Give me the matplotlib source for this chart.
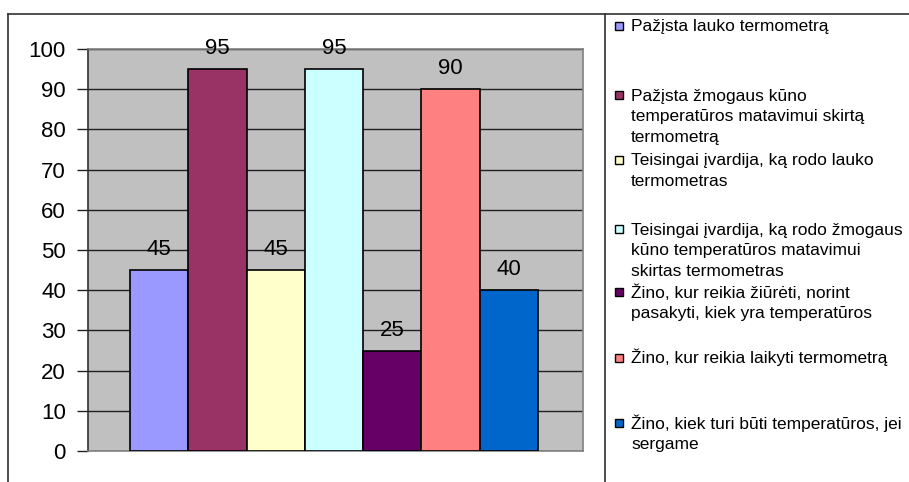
import numpy as np
import matplotlib
matplotlib.use('Agg')
from matplotlib import pyplot as plt
from matplotlib.lines import Line2D
from matplotlib.patches import Rectangle

plt.rcParams['font.family'] = ['Liberation Sans', 'DejaVu Sans']

labels = ['Pažįsta lauko termometrą',
          'Pažįsta žmogaus kūno\ntemperatūros matavimui skirtą\ntermometrą',
          'Teisingai įvardija, ką rodo lauko\ntermometras',
          'Teisingai įvardija, ką rodo žmogaus\nkūno temperatūros matavimui\nskirtas termometras',
          'Žino, kur reikia žiūrėti, norint\npasakyti, kiek yra temperatūros',
          'Žino, kur reikia laikyti termometrą',
          'Žino, kiek turi būti temperatūros, jei\nsergame']
values = [45, 95, 45, 95, 25, 90, 40]
colors = ['#9999FF', '#993366', '#FFFFCC', '#CCFFFF', '#660066', '#FF8080', '#0066CC']
yticks = [0, 10, 20, 30, 40, 50, 60, 70, 80, 90, 100]

W, H = 909, 482
fig = plt.figure(figsize=(W / 100, H / 100), dpi=100)

# plot area in pixel terms
ax = fig.add_axes([88 / W, (H - 451) / H, 495 / W, 402 / H])
ax.set_facecolor('#C0C0C0')

x = np.arange(len(values))
ax.bar(x, values, width=1.0, color=colors, edgecolor='black', linewidth=1.2, zorder=3)
for i in range(len(values)):
    ax.annotate(str(values[i]), (x[i], values[i]), xytext=(0, 7), textcoords='offset points',
                ha='center', va='bottom', fontsize=16, zorder=4)

ax.set_xlim(-1.22, 7.27)
ax.set_ylim(0, 100)
ax.set_yticks(yticks)
ax.set_xticks([])
ax.yaxis.grid(True, color='#202020', linewidth=1.0, zorder=1)
ax.tick_params(axis='y', length=8, width=1, color='#202020', pad=8, labelsize=16)
for s in ['top', 'right', 'bottom']:
    ax.spines[s].set_color('#808080')
    ax.spines[s].set_linewidth(1.2)
ax.spines['left'].set_color('#303030')
ax.spines['left'].set_linewidth(1.2)

# outer frame lines (chart cropped from a document)
fig.add_artist(Line2D([8 / W, 1], [1 - 14 / H, 1 - 14 / H], color='#303030', lw=1.2))
fig.add_artist(Line2D([8 / W, 8 / W], [0, 1 - 14 / H], color='#303030', lw=1.2))
fig.add_artist(Line2D([605 / W, 605 / W], [0, 1 - 14 / H], color='#303030', lw=1.2))

# legend, drawn by hand, one text per line
leg_y = [26, 95, 160, 229, 292, 358, 423]
line_h = 20.5
for i in range(len(labels)):
    yc = leg_y[i]
    fig.add_artist(Rectangle((615 / W, 1 - (yc + 4) / H), 8 / W, 8 / H,
                             facecolor=colors[i], edgecolor='black', lw=1.0))
    lines = labels[i].split('\n')
    for k in range(len(lines)):
        fig.text(631 / W, 1 - (yc + 5.5 + k * line_h) / H, lines[k], fontsize=12.5,
                 va='baseline', ha='left')

plt.savefig('out.png', dpi=100)
